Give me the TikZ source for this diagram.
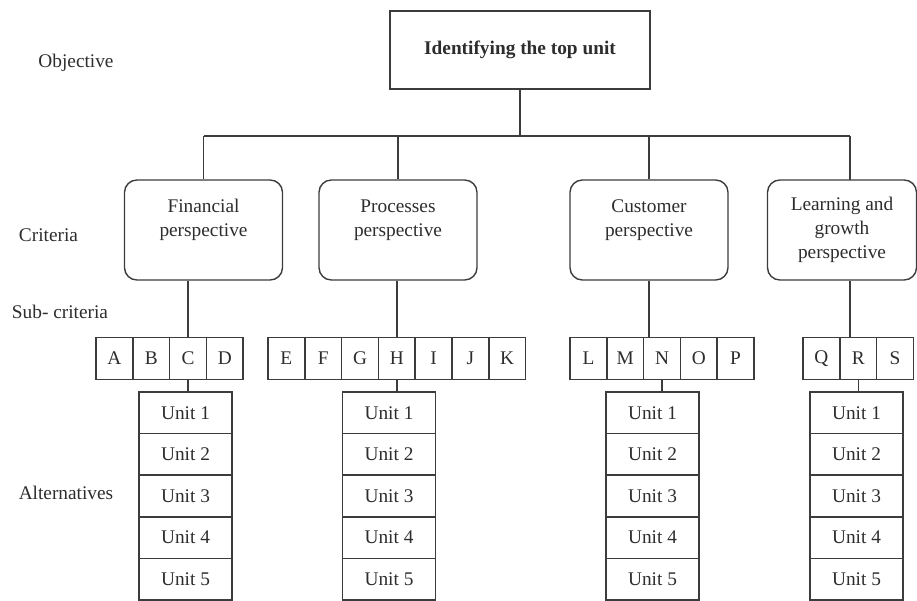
\documentclass[tikz,border=0pt]{standalone}
\usepackage{fontspec}
\setmainfont{Liberation Serif}
\usetikzlibrary{positioning, calc}
\definecolor{linegray}{RGB}{60, 60, 60}
\definecolor{textgray}{RGB}{45, 45, 45}

\begin{document}
\begin{tikzpicture}[
  x=0.02cm, y=-0.02cm,
  every node/.style={font=\fontsize{11}{13.7}\selectfont, text=textgray},
  topbox/.style={draw=linegray, line width=0.8pt, minimum width=5.2cm, minimum height=1.56cm,
                 font=\fontsize{11}{13.7}\selectfont\bfseries},
  critbox/.style={draw=linegray, line width=0.8pt, rounded corners=7pt,
                  minimum width=3.16cm, minimum height=2cm, align=center},
  subbox/.style={draw=linegray, line width=0.8pt, minimum width=0.736cm, minimum height=0.84cm, inner sep=0pt},
  unitbox/.style={draw=linegray, line width=0.8pt, minimum width=1.86cm, minimum height=0.832cm, inner sep=0pt},
  link/.style={draw=linegray, line width=0.8pt}
]
  \useasboundingbox (0,0) rectangle (917,601);

  \node (objective) at (76,63) {Objective};
  \node (criteria) at (48.5,235) {Criteria};
  \node (subcrit) at (60,312) {Sub- criteria};
  \node (alternatives) at (66,493) {Alternatives};

  \node[topbox] (goal) at (520,50) {Identifying the top unit};

  \node[critbox] (fin) at (203.5,230) {Financial\\perspective\\\mbox{}};
  \node[critbox] (proc) at (398,230) {Processes\\perspective\\\mbox{}};
  \node[critbox] (cust) at (649,230) {Customer\\perspective\\\mbox{}};
  \node[critbox, minimum width=2.98cm] (learn) at (842,230) {Learning and\\growth\\perspective};

  \foreach \x/\ls in {96/{A,B,C,D}, 268/{E,F,G,H,I,J,K}, 570/{L,M,N,O,P}, 803/{Q,R,S}}
    \foreach \l [count=\i] in \ls
      \node[subbox] (\l) at ({\x+18.4+(\i-1)*36.8},358.5) {\l};

  \foreach \col/\x in {fin/185.5, proc/389, cust/652.5, learn/856.5}
    \foreach \k in {1,...,5}
      \node[unitbox] (\col-u\k) at (\x,{412.8+(\k-1)*41.6}) {Unit \k};

  \coordinate (bar) at (520,136);
  \coordinate (learn-in) at (850,180);

  \draw[link] (goal.south) -- (goal.south |- bar);
  \draw[link] (fin.north |- bar) -- (learn-in |- bar);
  \foreach \n in {fin,proc,cust}
    \draw[link] (\n.north |- bar) -- (\n.north);
  \draw[link] (learn-in |- bar) -- (learn-in);

  \draw[link] (fin.south -| C.north) -- (C.north);
  \draw[link] (proc.south -| H.north) -- (H.north);
  \draw[link] (cust.south) -- (cust.south |- N.north);
  \draw[link] (learn-in |- learn.south) -- (learn-in |- R.north);

  \draw[link] (C.south) -- (C.south |- fin-u1.north);
  \draw[link] (H.south) -- (H.south |- proc-u1.north);
  \draw[link] (N.south) -- (N.south |- cust-u1.north);
  \draw[link] (R.south) -- (R.south |- learn-u1.north);
\end{tikzpicture}
\end{document}
